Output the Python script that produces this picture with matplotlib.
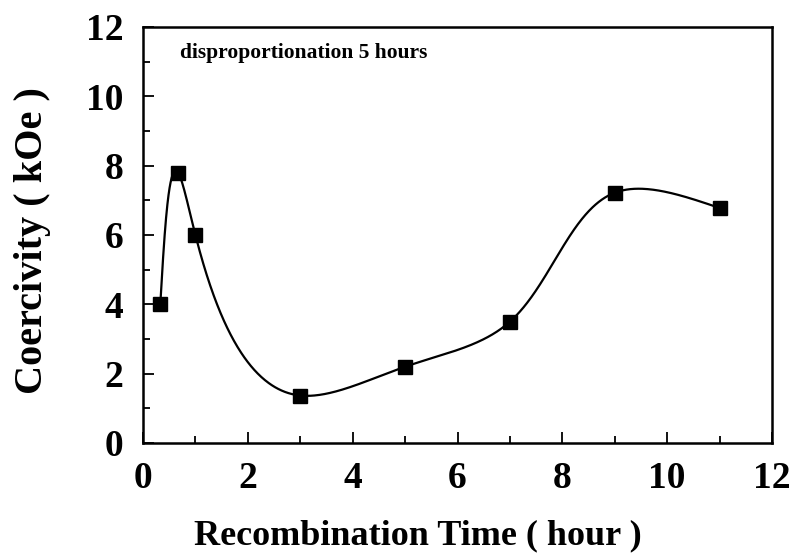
import numpy as np
import matplotlib
matplotlib.use("Agg")
import matplotlib.pyplot as plt
from matplotlib.ticker import MultipleLocator

# data
recomb_time = [0.33, 0.67, 1.0, 3.0, 5.0, 7.0, 9.0, 11.0]   # hour
coercivity  = [4.0, 7.8, 6.0, 1.37, 2.2, 3.5, 7.22, 6.78]    # kOe


def natural_spline(t, y, ts):
    # natural cubic spline of y(t), solved with numpy
    t = np.asarray(t, float); y = np.asarray(y, float)
    n = len(t)
    h = np.diff(t)
    A = np.zeros((n, n)); r = np.zeros(n)
    A[0, 0] = A[-1, -1] = 1
    for i in range(1, n - 1):
        A[i, i - 1] = h[i - 1]
        A[i, i] = 2 * (h[i - 1] + h[i])
        A[i, i + 1] = h[i]
        r[i] = 6 * ((y[i + 1] - y[i]) / h[i] - (y[i] - y[i - 1]) / h[i - 1])
    M = np.linalg.solve(A, r)
    idx = np.clip(np.searchsorted(t, ts) - 1, 0, n - 2)
    t0, t1 = t[idx], t[idx + 1]
    hh = t1 - t0
    a = (t1 - ts) / hh; b = (ts - t0) / hh
    return (a * y[idx] + b * y[idx + 1]
            + ((a**3 - a) * M[idx] + (b**3 - b) * M[idx + 1]) * hh**2 / 6)


def smooth_curve(x, y, sx=52.3, sy=34.7, n=800):
    # parametric spline, chord length measured on the page
    x = np.asarray(x, float); y = np.asarray(y, float)
    d = np.hypot(np.diff(x) * sx, np.diff(y) * sy)
    t = np.concatenate([[0], np.cumsum(d)])
    ts = np.linspace(0, t[-1], n)
    return natural_spline(t, x, ts), natural_spline(t, y, ts)


plt.rcParams['font.family'] = ['Liberation Serif', 'DejaVu Serif']
plt.rcParams['font.weight'] = 'bold'

fig = plt.figure(figsize=(7.9, 5.58), dpi=100)
ax = fig.add_axes([143 / 790, 1 - 443 / 558, 629 / 790, 416 / 558])

cx, cy = smooth_curve(recomb_time, coercivity)
ax.plot(cx, cy, color='black', lw=1.6)
ax.plot(recomb_time, coercivity, 's', color='black', ms=10.5)

ax.set_xlim(0, 12)
ax.set_ylim(0, 12)
ax.xaxis.set_major_locator(MultipleLocator(2))
ax.xaxis.set_minor_locator(MultipleLocator(1))
ax.yaxis.set_major_locator(MultipleLocator(2))
ax.yaxis.set_minor_locator(MultipleLocator(1))
ax.tick_params(which='both', direction='in', width=1.3, top=False, right=False)
ax.tick_params(which='major', length=8, labelsize=27)
ax.tick_params(axis='x', which='major', pad=13)
ax.tick_params(axis='y', which='major', pad=14)
ax.tick_params(which='minor', length=5)
for sp in ax.spines.values():
    sp.set_linewidth(1.8)

ax.set_xlabel('Recombination Time ( hour )', fontsize=26, fontweight='bold', va='center')
ax.xaxis.set_label_coords(0.437, -0.222)
ax.set_ylabel('Coercivity ( kOe )', fontsize=29, fontweight='bold', va='center')
ax.yaxis.set_label_coords(-0.176, 0.486)
ax.text(0.71, 11.25, 'disproportionation 5 hours', fontsize=15.5, fontweight='bold',
        va='center', ha='left')

fig.savefig('out.png', dpi=100)
